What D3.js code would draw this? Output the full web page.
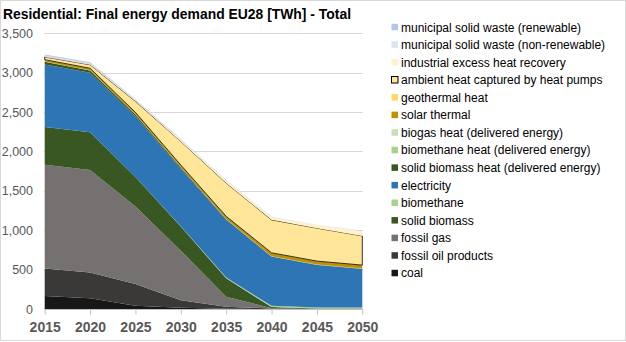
<!DOCTYPE html>
<html><head><meta charset="utf-8">
<script src="https://cdn.jsdelivr.net/npm/d3@7"></script>
<style>body{margin:0;background:#fff}svg{display:block}</style>
</head><body>
<svg id="c" width="626" height="342"></svg>
<script>
const years = [2015, 2020, 2025, 2030, 2035, 2040, 2045, 2050];
const seriesNames = [
  "coal", "fossil oil products", "fossil gas", "solid biomass", "biomethane", "electricity",
  "solid biomass heat (delivered energy)", "biomethane heat (delivered energy)", "biogas heat (delivered energy)",
  "solar thermal", "geothermal heat", "ambient heat captured by heat pumps", "industrial excess heat recovery",
  "municipal solid waste (non-renewable)", "municipal solid waste (renewable)"
];
const coal          = [165, 136, 42, 15, 3, 0, 0, 0];
const fossilOil     = [348, 326, 276, 95, 27, 5, 0, 0];
const fossilGas     = [1319, 1302, 982, 630, 127, 5, 0, 0];
const solidBiomass  = [479, 479, 375, 307, 233, 15, 5, 5];
const biomethane    = [0, 0, 0, 5, 10, 15, 15, 15];
const electricity   = [793, 755, 771, 729, 732, 625, 540, 489];
const solidBiomassHeat = [35, 30, 22, 15, 8, 3, 3, 3];
const biomethaneHeat   = [0, 0, 0, 0, 0, 0, 0, 0];
const biogasHeat       = [3, 3, 3, 3, 3, 2, 2, 2];
const solarThermal     = [20, 22, 22, 25, 30, 40, 40, 40];
const geothermal       = [3, 3, 3, 3, 3, 3, 3, 3];
const ambientHeat      = [35, 45, 140, 300, 423, 419, 418, 371];
const industrialExcess = [5, 8, 12, 20, 30, 35, 40, 60];
const mswNonRenewable  = [12, 12, 8, 6, 4, 2, 2, 2];
const mswRenewable     = [14, 12, 8, 6, 4, 2, 2, 2];
const yTicks = [0, 500, 1000, 1500, 2000, 2500, 3000, 3500];

const seriesValues = [coal, fossilOil, fossilGas, solidBiomass, biomethane, electricity,
  solidBiomassHeat, biomethaneHeat, biogasHeat, solarThermal, geothermal, ambientHeat,
  industrialExcess, mswNonRenewable, mswRenewable];
const colors = ["#171717", "#3b3838", "#767171", "#385723", "#a9d18e", "#2e75b6",
  "#385723", "#a9d18e", "#c5e0b4", "#bf9000", "#ffd966", "#ffe699", "#fff2cc", "#dae3f3", "#b4c7e7"];

const rows = years.map((y, i) => {
  const r = {year: y};
  seriesNames.forEach((n, k) => r[n] = seriesValues[k][i]);
  return r;
});
const stack = d3.stack().keys(seriesNames);
const layers = stack(rows);

const svg = d3.select("#c");
const font = "'Liberation Sans', Arial, sans-serif";
svg.append("rect").attr("x", 0.5).attr("y", 0.5).attr("width", 625).attr("height", 340)
  .attr("fill", "#fff").attr("stroke", "#d9d9d9");

const x = d3.scalePoint().domain(years).range([44.7, 362.3]);
const y = d3.scaleLinear().domain([0, 3500]).range([309, 33.3]);

// gridlines
svg.append("g").selectAll("line").data(yTicks.slice(1)).join("line")
  .attr("x1", 44).attr("x2", 363)
  .attr("y1", d => Math.round(y(d)) + 0.5).attr("y2", d => Math.round(y(d)) + 0.5)
  .attr("stroke", "#d9d9d9").attr("stroke-width", 1);

const area = d3.area().x(d => x(d.data.year)).y0(d => y(d[0])).y1(d => y(d[1]));
svg.append("g").selectAll("path").data(layers).join("path")
  .attr("d", area)
  .attr("fill", (d, i) => colors[i])
  .attr("stroke", (d, i) => seriesNames[i].startsWith("ambient") ? "#000" : "none")
  .attr("stroke-width", 0.8);

// y axis labels
const yAxis = d3.axisLeft(y).tickValues(yTicks).tickFormat(d3.format(",")).tickSize(0).tickPadding(0);
const ga = svg.append("g").attr("transform", "translate(33,0)").call(yAxis);
ga.select(".domain").remove();
ga.selectAll("text").attr("fill", "#595959").attr("font-size", 12.5).attr("font-family", font);

// x axis
const xAxis = d3.axisBottom(x).tickSize(5).tickPadding(8).tickSizeOuter(0);
const gx = svg.append("g").attr("transform", "translate(0,309.5)").call(xAxis);
gx.select(".domain").attr("stroke", "#bfbfbf").attr("d", "M44.2,0H362.8");
gx.selectAll(".tick line").attr("stroke", "#bfbfbf");
gx.selectAll("text").attr("fill", "#595959").attr("font-size", 14).attr("font-weight", "bold").attr("font-family", font);

// title
svg.append("text").attr("x", 3).attr("y", 19).text("Residential: Final energy demand EU28 [TWh] - Total")
  .attr("font-family", font).attr("font-weight", "bold").attr("font-size", 15.5).attr("fill", "#000")
  .attr("textLength", 348).attr("lengthAdjust", "spacingAndGlyphs");

// legend
const legendItems = seriesNames.map((n, i) => ({name: n, color: colors[i]})).reverse();
const lg = svg.append("g");
const li = lg.selectAll("g").data(legendItems).join("g")
  .attr("transform", (d, i) => `translate(391,${27.3 + i * 17.57})`);
li.append("rect").attr("x", 0.5).attr("y", -3.5).attr("width", 6.5).attr("height", 6.5)
  .attr("fill", d => d.color)
  .attr("stroke", d => d.name.startsWith("ambient") ? "#000" : "none").attr("stroke-width", 1);
li.append("text").attr("x", 10).attr("y", 0).attr("dy", "0.35em").text(d => d.name)
  .attr("font-family", font).attr("font-size", 12).attr("fill", "#000");
</script>
</body></html>
